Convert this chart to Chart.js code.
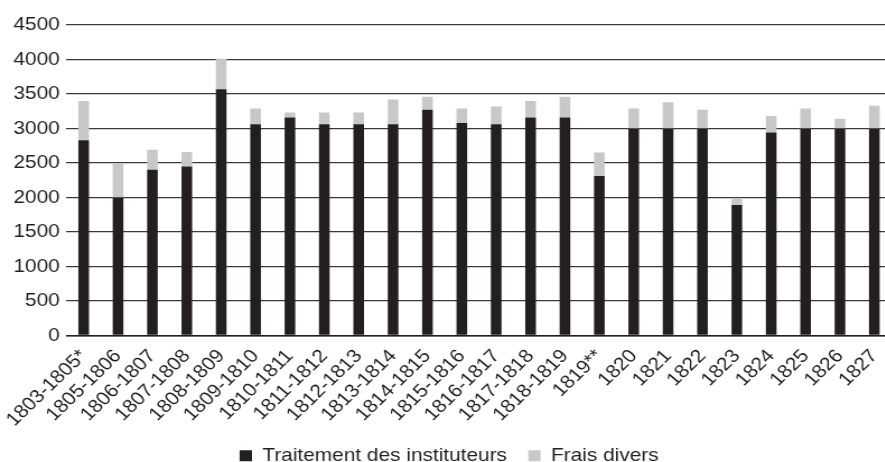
<!DOCTYPE html>
<html>
<head>
<meta charset="utf-8">
<script src="https://cdn.jsdelivr.net/npm/chart.js@4/dist/chart.umd.min.js"></script>
<style>
	html, body { margin: 0; padding: 0; background: #fff; overflow: hidden; width: 885px; height: 462px; }
	/* the source figure is stretched sideways, so the whole canvas is too */
	#wrap {
		width: 796px;
		height: 462px;
		transform: scaleX(1.12);
		transform-origin: 0 0;
	}
</style>
</head>
<body>
<div id="wrap"><canvas id="chart" width="796" height="462"></canvas></div>
<script>
var labels = [
	"1803-1805*", "1805-1806", "1806-1807", "1807-1808", "1808-1809",
	"1809-1810", "1810-1811", "1811-1812", "1812-1813", "1813-1814",
	"1814-1815", "1815-1816", "1816-1817", "1817-1818", "1818-1819",
	"1819**", "1820", "1821", "1822", "1823", "1824", "1825", "1826", "1827"
];
var traitement = [
	2830, 2000, 2400, 2450, 3570, 3060, 3160, 3060, 3060, 3060,
	3270, 3080, 3060, 3160, 3160, 2310, 3000, 3000, 3000, 1890,
	2940, 3000, 3000, 3000
];
var frais = [
	570, 500, 290, 210, 440, 230, 70, 170, 170, 360,
	190, 210, 260, 240, 300, 340, 290, 380, 270, 90,
	240, 290, 140, 330
];
var yTicks = [0, 500, 1000, 1500, 2000, 2500, 3000, 3500, 4000, 4500];

var color = {
	black: "#231f20",
	grey: "#c7c8ca",
	grid: "#3a3a3a"
};

Chart.defaults.font.family = "'Liberation Sans', Arial, sans-serif";
Chart.defaults.font.size = 18.6;
Chart.defaults.color = color.black;

var ctx = document.getElementById("chart").getContext("2d");
var chart = new Chart(ctx, {
	type: "bar",
	data: {
		labels: labels,
		datasets: [
			{
				label: "Traitement des instituteurs",
				data: traitement,
				backgroundColor: color.black,
				barPercentage: 0.31,
				categoryPercentage: 1
			},
			{
				label: "Frais divers",
				data: frais,
				backgroundColor: color.grey,
				barPercentage: 0.31,
				categoryPercentage: 1
			}
		]
	},
	options: {
		responsive: false,
		animation: false,
		layout: {
			padding: { left: 6, right: 0, top: 25, bottom: -13 }
		},
		plugins: {
			tooltip: { enabled: false },
			legend: {
				position: "bottom",
				labels: {
					boxWidth: 11,
					boxHeight: 11,
					padding: 19,
					color: color.black
				}
			}
		},
		scales: {
			x: {
				stacked: true,
				grid: { display: false },
				border: { display: true, color: color.black, width: 1.5 },
				ticks: {
					autoSkip: false,
					maxRotation: 47,
					minRotation: 47,
					padding: 2
				},
				afterFit: function (scale) {
					scale.paddingLeft = 0;
					scale.paddingRight = 0;
					scale.height = 92;
				}
			},
			y: {
				stacked: true,
				min: 0,
				max: 4500,
				afterBuildTicks: function (axis) {
					axis.ticks = yTicks.map(function (v) { return { value: v }; });
				},
				grid: { color: color.grid, lineWidth: 1.2, drawTicks: false },
				border: { display: false },
				ticks: {
					padding: 6,
					callback: function (value) { return String(value); }
				}
			}
		}
	}
});
</script>
</body>
</html>
